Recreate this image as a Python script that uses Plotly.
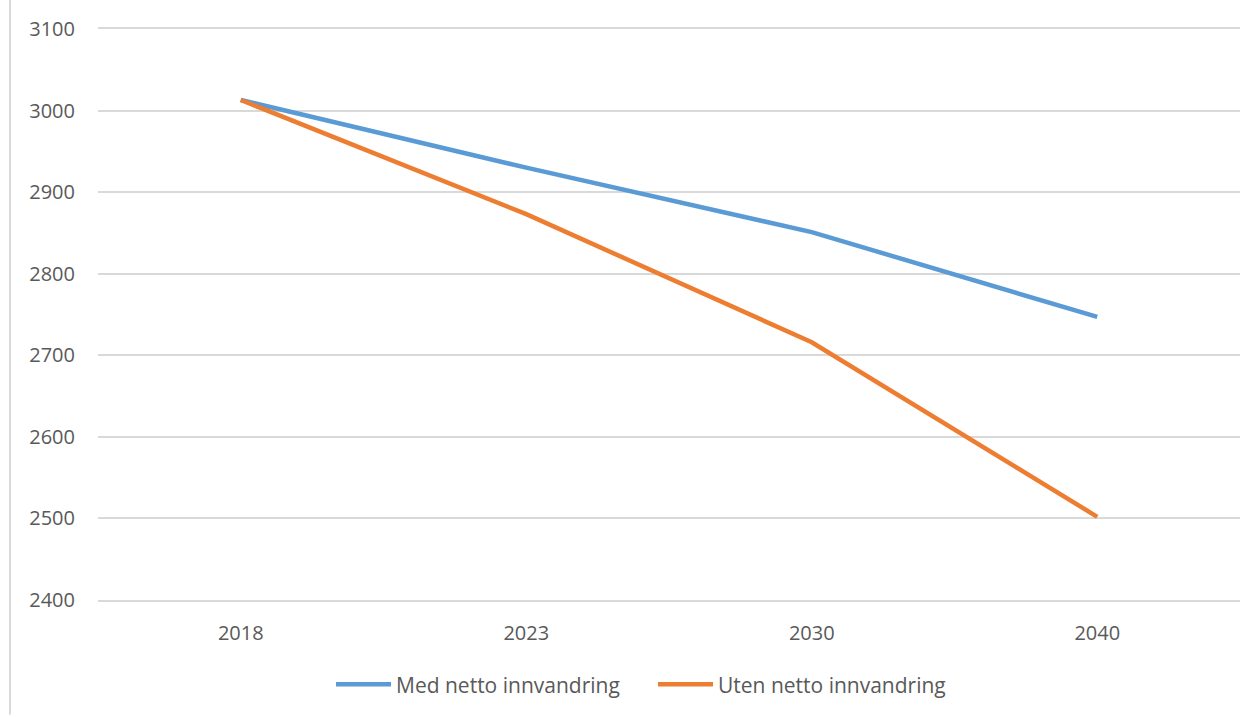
import plotly.graph_objects as go

years = ["2018", "2023", "2030", "2040"]
med_netto = [3013, 2930, 2851, 2747]
uten_netto = [3013, 2873, 2716, 2502]
series_names = ["Med netto innvandring", "Uten netto innvandring"]
y_ticks = [2400, 2500, 2600, 2700, 2800, 2900, 3000, 3100]

W, H = 1256, 717
L, R, T, B = 98, 16, 29, 115

fig = go.Figure()
fig.add_trace(go.Scatter(x=years, y=med_netto, mode="lines", name=series_names[0],
                         line=dict(color="#5B9BD5", width=4.5)))
fig.add_trace(go.Scatter(x=years, y=uten_netto, mode="lines", name=series_names[1],
                         line=dict(color="#ED7D31", width=4.5)))

font = dict(family="Open Sans, Noto Sans, sans-serif", size=20, color="#595959")
fig.update_layout(
    width=W, height=H,
    margin=dict(l=L, r=R, t=T, b=B),
    paper_bgcolor="white", plot_bgcolor="white",
    font=font,
    showlegend=True,
    legend=dict(orientation="h", x=(337 - 6 - L) / (W - L - R), xanchor="left",
                y=-(687 - (H - B)) / (H - T - B),
                yanchor="middle", font=dict(size=21, color="#595959"),
                itemwidth=55,
                entrywidth=252, entrywidthmode="pixels", tracegroupgap=0),
    xaxis=dict(type="category", range=[-0.5, 3.5], showgrid=False,
               showline=True, mirror=True, linecolor="#d9d9d9", linewidth=1.5,
               zeroline=False, ticks="", ticklabelstandoff=14, tickfont=font),
    yaxis=dict(range=[2400, 3100], tickvals=y_ticks, showgrid=True, gridcolor="#d9d9d9",
               gridwidth=1.5, zeroline=False, showline=False, ticks="",
               ticklabelstandoff=22, tickfont=font),
    shapes=[dict(type="line", xref="paper", yref="paper",
                 x0=(10 - L) / (W - L - R), x1=(10 - L) / (W - L - R),
                 y0=-B / (H - T - B), y1=1 + T / (H - T - B),
                 line=dict(color="#d9d9d9", width=2))],
)
fig.write_html("out.html")
